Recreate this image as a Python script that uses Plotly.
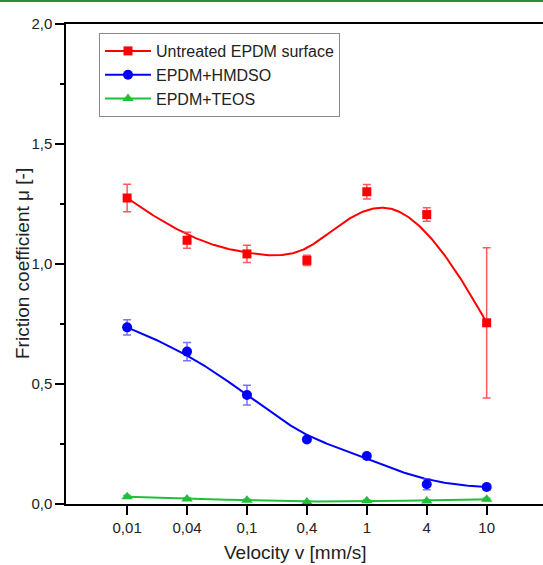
import numpy as np
import plotly.graph_objects as go

velocity_labels = ["0,01", "0,04", "0,1", "0,4", "1", "4", "10"]
untreated = [1.275, 1.099, 1.042, 1.015, 1.301, 1.206, 0.755]
untreated_err = [0.057, 0.033, 0.036, 0.021, 0.030, 0.028, 0.313]
hmdso = [0.736, 0.635, 0.454, 0.269, 0.200, 0.082, 0.071]
hmdso_err = [0.032, 0.038, 0.041, 0.010, 0.010, 0.023, 0.012]
teos = [0.030, 0.021, 0.016, 0.008, 0.014, 0.013, 0.020]
teos_err = [0.006, 0.005, 0.004, 0.003, 0.004, 0.004, 0.005]

series_names = ["Untreated EPDM surface", "EPDM+HMDSO", "EPDM+TEOS"]
colors = ["#FF0000", "#0000FF", "#1FBF3A"]
err_colors = ["rgba(255,60,60,0.85)", "rgba(70,70,255,0.75)", "rgba(31,191,58,0.7)"]
symbols = ["square", "circle", "triangle-up"]
msizes = [9, 10, 10]


def bspline(xs, ys, n=300):
    """Clamped uniform cubic B-spline using the data as control points (Origin-style)."""
    P = np.column_stack([xs, ys]).astype(float)
    m = len(P)
    k = 3
    inner = np.arange(1, m - k)
    knots = np.concatenate([[0] * (k + 1), inner, [m - k] * (k + 1)]).astype(float)
    ts = np.linspace(0, m - k, n)
    out = []
    for t in ts:
        if t >= knots[-k - 1]:
            s = m - 1
        else:
            s = np.searchsorted(knots, t, side="right") - 1
        d = [P[j].copy() for j in range(s - k, s + 1)]
        for r in range(1, k + 1):
            for j in range(k, r - 1, -1):
                i = j + s - k
                denom = knots[i + k - r + 1] - knots[i]
                a = 0.0 if denom == 0 else (t - knots[i]) / denom
                d[j] = (1 - a) * d[j - 1] + a * d[j]
        out.append(d[k])
    out = np.array(out)
    return out[:, 0], out[:, 1]


x_idx = list(range(len(velocity_labels)))
fig = go.Figure()

for vals, errs, name, col, ecol, sym, ms in zip(
    [untreated, hmdso, teos],
    [untreated_err, hmdso_err, teos_err],
    series_names, colors, err_colors, symbols, msizes,
):
    cx, cy = bspline(x_idx, vals)
    fig.add_trace(go.Scatter(x=cx, y=cy, mode="lines", line=dict(color=col, width=2),
                             showlegend=False, hoverinfo="skip", cliponaxis=False))
    fig.add_trace(go.Scatter(
        x=x_idx, y=vals, mode="markers",
        marker=dict(symbol=sym, size=ms, color=col, line=dict(width=0)),
        error_y=dict(type="data", array=errs, visible=True, color=ecol, thickness=1.5, width=4),
        showlegend=False, cliponaxis=False,
    ))
    fig.add_trace(go.Scatter(
        x=[None], y=[None], mode="lines+markers", name=name,
        line=dict(color=col, width=2),
        marker=dict(symbol=sym, size=ms, color=col),
    ))

PW, PH = 477, 480
fig.update_layout(
    width=543, height=565,
    margin=dict(l=66, r=0, t=24, b=61, autoexpand=False),
    paper_bgcolor="white", plot_bgcolor="white",
    separators=",.",
    font=dict(family="Liberation Sans, Arial, sans-serif", size=15, color="#222222"),
    showlegend=True,
    legend=dict(x=(99 - 66) / PW, y=1 - 9 / PH, xanchor="left", yanchor="top",
                bordercolor="#8a8a8a", borderwidth=1, bgcolor="white",
                font=dict(size=16, color="#222222"),
                tracegroupgap=0, itemwidth=46),
    shapes=[dict(type="line", xref="paper", yref="paper", x0=-0.2, x1=1.1,
                 y0=1 + 23 / PH, y1=1 + 23 / PH,
                 line=dict(color="#2E8B3A", width=2))],
    annotations=[
        dict(text="Velocity v [mm/s]", xref="paper", yref="paper",
             x=(295 - 66) / PW, y=0, yshift=-48, xanchor="center", yanchor="middle",
             showarrow=False, font=dict(size=19, color="#222222")),
        dict(text="Friction coefficient μ [-]", xref="paper", yref="paper",
             x=0, xshift=-44, y=(504 - 264) / PH, xanchor="center", yanchor="middle",
             textangle=-90, showarrow=False, font=dict(size=19, color="#222222")),
    ],
)

fig.update_xaxes(
    range=[-1.02, 6.94], tickmode="array", tickvals=x_idx, ticktext=velocity_labels,
    showline=True, linecolor="black", linewidth=1.5, mirror=True,
    ticks="outside", ticklen=9, tickwidth=1.5, tickcolor="black",
    showgrid=False, zeroline=False, automargin=False,
    tickfont=dict(size=15, color="#222222"),
)
fig.update_yaxes(
    range=[0, 2], tickmode="array", tickvals=[0, 0.5, 1.0, 1.5, 2.0],
    ticktext=["0,0", "0,5", "1,0", "1,5", "2,0"],
    showline=True, linecolor="black", linewidth=1.5,
    ticks="outside", ticklen=9, tickwidth=1.5, tickcolor="black",
    minor=dict(tickvals=[0.25, 0.75, 1.25, 1.75], ticks="outside", ticklen=4,
               tickwidth=1.5, tickcolor="black"),
    showgrid=False, zeroline=False, automargin=False,
    tickfont=dict(size=15, color="#222222"),
)

fig.write_html("out.html", config={"displayModeBar": False},
               post_script="document.body.style.margin='0';document.body.style.overflow='hidden';")
